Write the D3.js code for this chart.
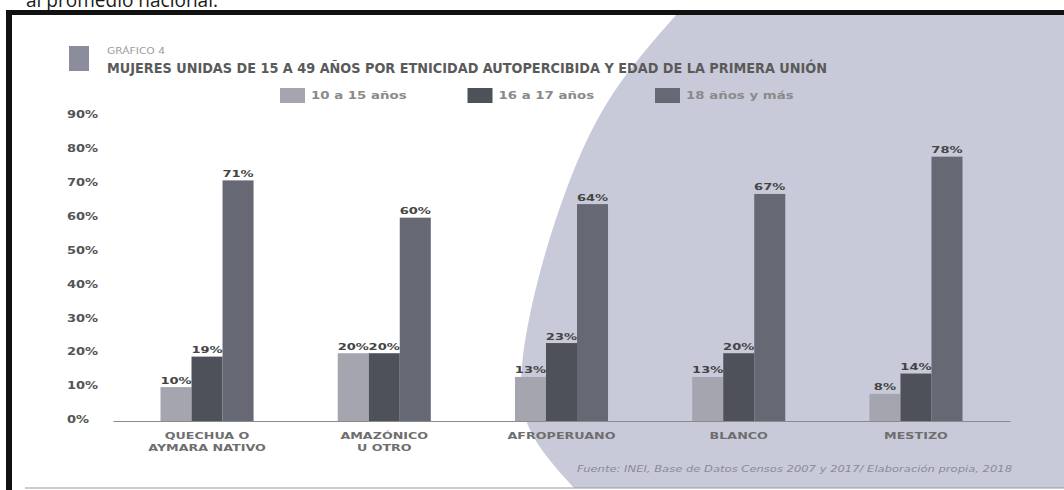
<!DOCTYPE html>
<html>
<head>
<meta charset="utf-8">
<script src="https://cdn.jsdelivr.net/npm/d3@7"></script>
<style>
  html, body { margin: 0; padding: 0; background: #fff; }
  svg { display: block; }
</style>
</head>
<body>
<svg id="chart" width="1064" height="490"></svg>
<script>
// ---- data ----
const categories = ["QUECHUA O|AYMARA NATIVO", "AMAZÓNICO|U OTRO", "AFROPERUANO", "BLANCO", "MESTIZO"];
const seriesNames = ["10 a 15 años", "16 a 17 años", "18 años y más"];
const values10a15 = [10, 20, 13, 13, 8];
const values16a17 = [19, 20, 23, 20, 14];
const values18mas = [71, 60, 64, 67, 78];
const yTicks = [0, 10, 20, 30, 40, 50, 60, 70, 80, 90];
const seriesColors = ["#a4a5af", "#4f515a", "#666874"];

const seriesValues = [values10a15, values16a17, values18mas];
const table = categories.map((c, i) => ({
  cat: c,
  vals: seriesNames.map((s, j) => ({ s, v: seriesValues[j][i] }))
}));

const svg = d3.select("#chart");
const W = 1064, H = 490;

function stretch(sel, k) {
  sel.each(function () {
    const w = this.getComputedTextLength();
    this.setAttribute("textLength", w * k);
    this.setAttribute("lengthAdjust", "spacingAndGlyphs");
  });
}

// ---- page / frame ----
svg.append("rect").attr("width", W).attr("height", H).attr("fill", "#fff");
svg.append("text")
  .attr("x", 26).attr("y", 7)
  .attr("font-family", "Open Sans, sans-serif").attr("font-size", 20)
  .attr("fill", "#1a1a1a")
  .attr("textLength", 192).attr("lengthAdjust", "spacingAndGlyphs")
  .text("al promedio nacional.");

// decorative background shape (page design element)
const edge = [[676, 15], [612, 95], [568, 185], [538, 280], [522, 365], [530, 430], [574, 488]];
const shapeLine = d3.line().curve(d3.curveNatural);
svg.append("path")
  .attr("d", shapeLine(edge) + `L${W},488L${W},15Z`)
  .attr("fill", "#c8cad9");

svg.append("rect").attr("x", 6).attr("y", 10).attr("width", W - 6).attr("height", 5).attr("fill", "#111");
svg.append("rect").attr("x", 6).attr("y", 10).attr("width", 6).attr("height", H - 10).attr("fill", "#111");
svg.append("line").attr("x1", 25).attr("x2", W).attr("y1", 488).attr("y2", 488)
  .attr("stroke", "#9a9a9a").attr("stroke-width", 1.2);

// ---- title ----
svg.append("rect").attr("x", 69).attr("y", 46).attr("width", 20).attr("height", 25).attr("fill", "#8b8d9c");
svg.append("text")
  .attr("x", 107).attr("y", 54)
  .attr("font-family", "DejaVu Sans, sans-serif").attr("font-size", 8.5)
  .attr("fill", "#9c9c9c")
  .attr("textLength", 58).attr("lengthAdjust", "spacingAndGlyphs")
  .text("GRÁFICO 4");
svg.append("text")
  .attr("x", 107).attr("y", 73)
  .attr("font-family", "Liberation Sans Narrow, DejaVu Sans Condensed, sans-serif")
  .attr("font-size", 14).attr("font-weight", "bold")
  .attr("fill", "#5a5a5a")
  .attr("textLength", 720).attr("lengthAdjust", "spacingAndGlyphs")
  .text("MUJERES UNIDAS DE 15 A 49 AÑOS POR ETNICIDAD AUTOPERCIBIDA Y EDAD DE LA PRIMERA UNIÓN");

// ---- legend ----
const legend = svg.append("g");
seriesNames.forEach((s, i) => {
  const lx = 280 + i * 187.5;
  legend.append("rect").attr("x", lx).attr("y", 88).attr("width", 25).attr("height", 15)
    .attr("fill", seriesColors[i]);
  legend.append("text").attr("x", lx + 31).attr("y", 99)
    .attr("font-family", "DejaVu Sans, sans-serif").attr("font-size", 10.5).attr("font-weight", "bold")
    .attr("fill", "#8a8a8a").text(s)
    .call(stretch, 1.27);
});

// ---- scales ----
const y = d3.scaleLinear().domain([0, 90]).range([421, 116]);
const x = d3.scaleBand().domain(categories).range([113, 1010]).paddingInner(0.475).paddingOuter(0.268);
const xs = d3.scaleBand().domain(seriesNames).range([0, x.bandwidth()]);
const color = d3.scaleOrdinal().domain(seriesNames).range(seriesColors);

// ---- y axis ----
const yAxis = svg.append("g").attr("transform", "translate(67,-1.5)")
  .call(d3.axisLeft(y).tickValues(yTicks).tickFormat(d => d + "%").tickSize(0).tickPadding(0));
yAxis.select(".domain").remove();
yAxis.selectAll("text")
  .attr("x", 0).attr("text-anchor", "start")
  .attr("font-family", "DejaVu Sans, sans-serif").attr("font-size", 10).attr("font-weight", "bold")
  .attr("fill", "#555")
  .call(stretch, 1.3);

// ---- bars ----
const groups = svg.append("g").selectAll("g").data(table).join("g")
  .attr("transform", d => `translate(${x(d.cat)},0)`);
groups.selectAll("rect").data(d => d.vals).join("rect")
  .attr("x", d => xs(d.s)).attr("y", d => y(d.v))
  .attr("width", xs.bandwidth()).attr("height", d => y(0) - y(d.v))
  .attr("fill", d => color(d.s));
groups.selectAll("text").data(d => d.vals).join("text")
  .attr("x", d => xs(d.s) + xs.bandwidth() / 2).attr("y", d => y(d.v) - 3.5)
  .attr("text-anchor", "middle")
  .attr("font-family", "DejaVu Sans, sans-serif").attr("font-size", 9).attr("font-weight", "bold")
  .attr("fill", "#444")
  .text(d => d.v + "%")
  .call(stretch, 1.45);

// ---- x axis ----
const xAxis = svg.append("g").attr("transform", `translate(0,${y(0)})`)
  .call(d3.axisBottom(x).tickSize(0).tickSizeOuter(0).tickFormat(""));
xAxis.select(".domain").attr("stroke", "#8a8a8a").attr("stroke-width", 1.2);
xAxis.selectAll(".tick text").remove();
xAxis.selectAll(".tick").each(function (d) {
  const lines = d.split("|");
  const g = d3.select(this);
  lines.forEach((ln, i) => {
    g.append("text")
      .attr("x", 0).attr("y", 17.5 + i * 12)
      .attr("text-anchor", "middle")
      .attr("font-family", "DejaVu Sans, sans-serif").attr("font-size", 9).attr("font-weight", "bold")
      .attr("fill", "#6e6e6e")
      .text(ln)
      .call(stretch, 1.41);
  });
});

// ---- source ----
svg.append("text")
  .attr("x", 577).attr("y", 472)
  .attr("font-family", "DejaVu Sans, sans-serif").attr("font-size", 9).attr("font-style", "italic")
  .attr("fill", "#8a8a96")
  .attr("textLength", 435).attr("lengthAdjust", "spacingAndGlyphs")
  .text("Fuente: INEI, Base de Datos Censos 2007 y 2017/ Elaboración propia, 2018");
</script>
</body>
</html>
